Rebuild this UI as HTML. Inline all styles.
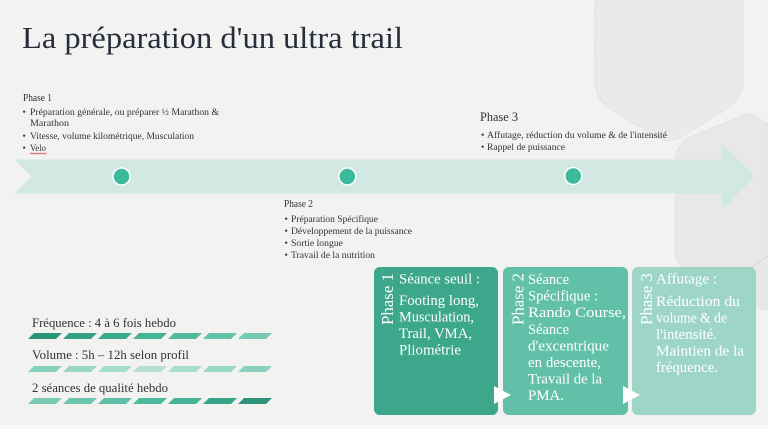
<!DOCTYPE html>
<html>
<head>
<meta charset="utf-8">
<style>
  html,body{margin:0;padding:0;background:#f2f2f1;}
  svg{display:block;}
  text{font-family:"Liberation Serif",serif;}
</style>
</head>
<body>
<svg width="768" height="429" viewBox="0 0 768 429" xmlns="http://www.w3.org/2000/svg">
  <rect x="0" y="0" width="768" height="429" fill="#f2f2f1"/>
  <rect x="0" y="425" width="768" height="4" fill="#fafafa"/>

  <!-- background hex shapes -->
  <path d="M595,0 L595,84 Q596,100 612,110 L655,136 Q668,145 681,137 L722,112 Q741,100 743,84 L743,0 Z"
        fill="#eaeae8" stroke="#d2d2cf" stroke-width="1" stroke-dasharray="1 1.5"/>
  <path d="M768,124 L752,114 Q749,112 746,114 L690,137 Q676,145 675,160 L675,252 Q676,266 690,274 L730,296 Q750,308 768,310 Z"
        fill="#e8e8e6" stroke="#d2d2cf" stroke-width="1" stroke-dasharray="1 1.5"/>
  <path d="M748,270 Q758,262 768,256" fill="none" stroke="#d8d8d5" stroke-width="1"/>

  <!-- title -->
  <text x="22" y="48" font-size="31" fill="#272d3b" textLength="381" lengthAdjust="spacingAndGlyphs">La préparation d'un ultra trail</text>

  <!-- Phase 1 text -->
  <g fill="#333" font-size="9.5">
    <text x="23" y="101" font-size="10" textLength="29" lengthAdjust="spacingAndGlyphs">Phase 1</text>
    <text x="22.5" y="115">•</text>
    <text x="30" y="115" textLength="189" lengthAdjust="spacingAndGlyphs">Préparation générale, ou préparer ½ Marathon &amp;</text>
    <text x="30" y="126" textLength="39" lengthAdjust="spacingAndGlyphs">Marathon</text>
    <text x="22.5" y="139">•</text>
    <text x="30" y="139" textLength="164" lengthAdjust="spacingAndGlyphs">Vitesse, volume kilométrique, Musculation</text>
    <text x="22.5" y="151">•</text>
    <text x="30" y="151" textLength="16" lengthAdjust="spacingAndGlyphs">Velo</text>
  </g>
  <path d="M30,154 l1.5,-1 l1.5,1 l1.5,-1 l1.5,1 l1.5,-1 l1.5,1 l1.5,-1 l1.5,1 l1.5,-1 l1.5,1 l1.5,-1" fill="none" stroke="#e05050" stroke-width="0.8"/>

  <!-- Phase 3 text -->
  <g fill="#333" font-size="9.5">
    <text x="480" y="121" font-size="12.5" textLength="38" lengthAdjust="spacingAndGlyphs">Phase 3</text>
    <text x="481" y="138">•</text>
    <text x="487" y="138" textLength="180" lengthAdjust="spacingAndGlyphs">Affutage, réduction du volume &amp; de l'intensité</text>
    <text x="481" y="150">•</text>
    <text x="487" y="150" textLength="78" lengthAdjust="spacingAndGlyphs">Rappel de puissance</text>
  </g>

  <!-- Phase 2 text -->
  <g fill="#333" font-size="9.5">
    <text x="284" y="207" font-size="10" textLength="29" lengthAdjust="spacingAndGlyphs">Phase 2</text>
    <text x="284.5" y="222">•</text>
    <text x="291" y="222" textLength="87" lengthAdjust="spacingAndGlyphs">Préparation Spécifique</text>
    <text x="284.5" y="234">•</text>
    <text x="291" y="234" textLength="121" lengthAdjust="spacingAndGlyphs">Développement de la puissance</text>
    <text x="284.5" y="246">•</text>
    <text x="291" y="246" textLength="52" lengthAdjust="spacingAndGlyphs">Sortie longue</text>
    <text x="284.5" y="258">•</text>
    <text x="291" y="258" textLength="84" lengthAdjust="spacingAndGlyphs">Travail de la nutrition</text>
  </g>

  <!-- timeline arrow -->
  <path d="M14,159.5 L722,159.5 L722,143 L755,176.5 L722,210 L722,193.5 L14,193.5 L31.5,176.5 Z" fill="#d1e9e2"/>
  <circle cx="121.5" cy="176.5" r="8.5" fill="#3dba9b" stroke="#ffffff" stroke-width="1.5"/>
  <circle cx="347.3" cy="176.5" r="8.5" fill="#3dba9b" stroke="#ffffff" stroke-width="1.5"/>
  <circle cx="573.3" cy="176" r="8.5" fill="#3dba9b" stroke="#ffffff" stroke-width="1.5"/>

  <!-- bottom-left labels -->
  <g fill="#333" font-size="12.5">
    <text x="32" y="327" textLength="144" lengthAdjust="spacingAndGlyphs">Fréquence : 4 à 6 fois hebdo</text>
    <text x="32" y="359" textLength="157" lengthAdjust="spacingAndGlyphs">Volume : 5h – 12h selon profil</text>
    <text x="32" y="392" textLength="136" lengthAdjust="spacingAndGlyphs">2 séances de qualité hebdo</text>
  </g>

  <!-- slanted bars row 1 -->
  <g>
    <polygon points="28,339 56,339 62,333 34,333" fill="#2e9479"/>
    <polygon points="63,339 91,339 97,333 69,333" fill="#34a085"/>
    <polygon points="98,339 126,339 132,333 104,333" fill="#3aa98c"/>
    <polygon points="133,339 161,339 167,333 139,333" fill="#44b395"/>
    <polygon points="168,339 196,339 202,333 174,333" fill="#50ba9d"/>
    <polygon points="203,339 231,339 237,333 209,333" fill="#62c2a8"/>
    <polygon points="238,339 266,339 272,333 244,333" fill="#76cab3"/>
  </g>
  <!-- row 2 -->
  <g>
    <polygon points="28,372 56,372 62,366 34,366" fill="#88d1be"/>
    <polygon points="63,372 91,372 97,366 69,366" fill="#96d7c5"/>
    <polygon points="98,372 126,372 132,366 104,366" fill="#a4dccd"/>
    <polygon points="133,372 161,372 167,366 139,366" fill="#b2e1d4"/>
    <polygon points="168,372 196,372 202,366 174,366" fill="#a6ddce"/>
    <polygon points="203,372 231,372 237,366 209,366" fill="#98d8c7"/>
    <polygon points="238,372 266,372 272,366 244,366" fill="#8ad2bf"/>
  </g>
  <!-- row 3 -->
  <g>
    <polygon points="28,404 56,404 62,398 34,398" fill="#7acbb5"/>
    <polygon points="63,404 91,404 97,398 69,398" fill="#6cc5ae"/>
    <polygon points="98,404 126,404 132,398 104,398" fill="#5ebfa6"/>
    <polygon points="133,404 161,404 167,398 139,398" fill="#4eb99d"/>
    <polygon points="168,404 196,404 202,398 174,398" fill="#43b295"/>
    <polygon points="203,404 231,404 237,398 209,398" fill="#38a487"/>
    <polygon points="238,404 266,404 272,398 244,398" fill="#2e9479"/>
  </g>

  <!-- boxes -->
  <rect x="374" y="267" width="124" height="148" rx="6" ry="6" fill="#3ca78b"/>
  <rect x="503" y="267" width="125" height="148" rx="6" ry="6" fill="#62c0a8"/>
  <rect x="632" y="267" width="124" height="148" rx="6" ry="6" fill="#9dd6c7"/>

  <!-- white triangles -->
  <polygon points="494,386 511,395 494,404" fill="#ffffff"/>
  <polygon points="623,386 640,395 623,404" fill="#ffffff"/>

  <!-- vertical phase labels -->
  <g fill="#ffffff" font-size="17">
    <text transform="translate(393,325) rotate(-90)" textLength="52" lengthAdjust="spacingAndGlyphs">Phase 1</text>
    <text transform="translate(523.5,325) rotate(-90)" textLength="52" lengthAdjust="spacingAndGlyphs">Phase 2</text>
    <text transform="translate(652,325) rotate(-90)" textLength="52" lengthAdjust="spacingAndGlyphs">Phase 3</text>
  </g>

  <!-- box 1 text -->
  <g fill="#ffffff" font-size="14.5">
    <text x="399" y="283.5" textLength="81" lengthAdjust="spacingAndGlyphs">Séance seuil :</text>
    <text x="399" y="305" textLength="80" lengthAdjust="spacingAndGlyphs">Footing long,</text>
    <text x="399" y="321.5" textLength="75" lengthAdjust="spacingAndGlyphs">Musculation,</text>
    <text x="399" y="338" textLength="73" lengthAdjust="spacingAndGlyphs">Trail, VMA,</text>
    <text x="399" y="354.5" textLength="62" lengthAdjust="spacingAndGlyphs">Pliométrie</text>
  </g>

  <!-- box 2 text -->
  <g fill="#ffffff" font-size="14.5">
    <text x="528" y="284" textLength="41" lengthAdjust="spacingAndGlyphs">Séance</text>
    <text x="528" y="300.6" textLength="70" lengthAdjust="spacingAndGlyphs">Spécifique :</text>
    <text x="528" y="317.2" textLength="98" lengthAdjust="spacingAndGlyphs">Rando Course,</text>
    <text x="528" y="333.8" textLength="41" lengthAdjust="spacingAndGlyphs">Séance</text>
    <text x="528" y="350.4" textLength="81" lengthAdjust="spacingAndGlyphs">d'excentrique</text>
    <text x="528" y="367" textLength="73" lengthAdjust="spacingAndGlyphs">en descente,</text>
    <text x="528" y="383.6" textLength="74" lengthAdjust="spacingAndGlyphs">Travail de la</text>
    <text x="528" y="400.2" textLength="36" lengthAdjust="spacingAndGlyphs">PMA.</text>
  </g>

  <!-- box 3 text -->
  <g fill="#ffffff" font-size="14.5">
    <text x="656" y="283.5" textLength="61" lengthAdjust="spacingAndGlyphs">Affutage :</text>
    <text x="656" y="306" textLength="84" lengthAdjust="spacingAndGlyphs">Réduction du</text>
    <text x="656" y="322.5" textLength="71" lengthAdjust="spacingAndGlyphs">volume &amp; de</text>
    <text x="656" y="339" textLength="61" lengthAdjust="spacingAndGlyphs">l'intensité.</text>
    <text x="656" y="355.5" textLength="88" lengthAdjust="spacingAndGlyphs">Maintien de la</text>
    <text x="656" y="372" textLength="62" lengthAdjust="spacingAndGlyphs">fréquence.</text>
  </g>
</svg>
</body>
</html>
